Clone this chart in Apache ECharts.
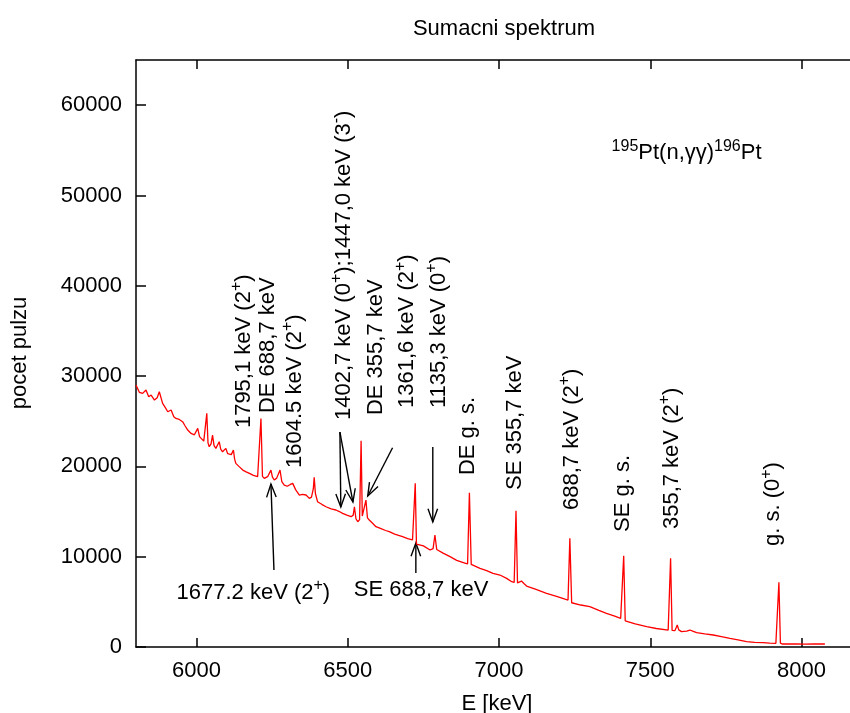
<!DOCTYPE html>
<html>
<head>
<meta charset="utf-8">
<script src="https://cdn.jsdelivr.net/npm/echarts@6/dist/echarts.min.js"></script>
<style>
  html, body { margin: 0; padding: 0; background: #fff; }
  #chart { width: 850px; height: 713px; }
</style>
</head>
<body>
<div id="chart"></div>
<script>
  // spektrum (E v keV, pocet pulzu)
  const energy = [
    5800, 5811, 5822, 5833, 5842, 5850, 5861, 5870, 5877, 5888, 5897, 5905, 5916, 5925, 5932, 5943,
    5954, 5962, 5971, 5982, 5993, 6004, 6010, 6015, 6024, 6030, 6034, 6038, 6042, 6048, 6053, 6058,
    6064, 6070, 6075, 6080, 6086, 6092, 6097, 6103, 6108, 6115, 6122, 6126, 6130, 6140, 6153, 6164,
    6175, 6188, 6202, 6208, 6213, 6218, 6224, 6235, 6241, 6246, 6251, 6257, 6265, 6270, 6276, 6282,
    6290, 6300, 6310, 6318, 6328, 6340, 6350, 6362, 6373, 6380, 6386, 6389, 6393, 6400, 6414, 6428,
    6445, 6461, 6472, 6483, 6497, 6511, 6518, 6522, 6527, 6533, 6539, 6544, 6548, 6554, 6560, 6565,
    6571, 6582, 6593, 6610, 6625, 6637, 6655, 6668, 6681, 6698, 6714, 6719, 6723, 6727, 6733, 6750,
    6772, 6782, 6788, 6794, 6799, 6815, 6838, 6860, 6887, 6896, 6902, 6908, 6913, 6937, 6959, 6980,
    7003, 7025, 7042, 7050, 7056, 7061, 7067, 7074, 7078, 7083, 7091, 7120, 7157, 7190, 7218, 7228,
    7234, 7240, 7245, 7270, 7300, 7330, 7355, 7380, 7402, 7407, 7412, 7417, 7422, 7450, 7488, 7520,
    7559, 7562, 7567, 7572, 7581, 7585, 7589, 7594, 7603, 7620, 7631, 7640, 7653, 7680, 7708, 7735,
    7763, 7790, 7818, 7845, 7873, 7895, 7915, 7920, 7925, 7930, 7937, 7960, 7983, 8010, 8040, 8077
  ];
  const counts = [
    29000, 28200, 28080, 28450, 27700, 27900, 27340, 27600, 28260, 26970, 26500, 26050, 26240, 25500, 25310, 25200,
    24950, 24500, 24020, 23650, 23500, 24210, 23300, 23100, 22800, 23000, 25870, 22600, 22180, 22500, 23470, 22300,
    21990, 22200, 22730, 21900, 21620, 21700, 21990, 21400, 21250, 21300, 21810, 20800, 20330, 20000, 19590, 19400,
    19220, 19000, 18860, 18900, 25310, 18900, 18670, 18860, 18700, 19590, 18800, 18490, 18700, 18600, 19590, 18300,
    17930, 17800, 18000, 18120, 17400, 16830, 16900, 16830, 16460, 16600, 17500, 18780, 17000, 16090, 15800, 15530,
    15300, 15170, 15000, 14800, 14600, 14430, 14600, 15530, 14200, 13870, 14100, 22840, 14500, 14600, 16270, 14300,
    14060, 13700, 13320, 13100, 12900, 12770, 12500, 12350, 12210, 12000, 11850, 11900, 18120, 11400, 11480, 11200,
    10740, 10900, 12400, 10800, 10650, 10400, 10000, 9600, 9300, 9200, 17080, 9150, 9080, 8710, 8450, 8150,
    7970, 7600, 7230, 7150, 15080, 7100, 7050, 7300, 7490, 7000, 6750, 6400, 5940, 5600, 5300, 5200,
    12030, 4900, 4830, 4650, 4460, 4050, 3730, 3450, 3170, 3100, 10110, 2900, 2800, 2550, 2250, 2050,
    1880, 1860, 9820, 1850, 1810, 2100, 2440, 1900, 1700, 1750, 1880, 1750, 1590, 1450, 1330, 1150,
    960, 780, 590, 520, 480, 440, 410, 420, 7160, 420, 330, 340, 330, 320, 330, 330
  ];

  const xTicks = [6000, 6500, 7000, 7500, 8000];
  const yTicks = [0, 10000, 20000, 30000, 40000, 50000, 60000];

  // popisky: text, poloha (E, pocet), otoceni
  const labels = [
    { t: '{n|1795,1 keV (2}{s|+}{n|)}', e: 6157, v: 24240, rot: true },
    { t: '{n|DE 688,7 keV}', e: 6236, v: 25900, rot: true },
    { t: '{n|1604.5 keV (2}{s|+}{n|)}', e: 6325, v: 19820, rot: true },
    { t: '{n|1402,7 keV (0}{s|+}{n|);1447,0 keV (3}{s|-}{n|)}', e: 6487, v: 25130, rot: true },
    { t: '{n|DE 355,7 keV}', e: 6593, v: 25680, rot: true },
    { t: '{n|1361,6 keV (2}{s|+}{n|)}', e: 6697, v: 26460, rot: true },
    { t: '{n|1135,3 keV (0}{s|+}{n|)}', e: 6801, v: 26460, rot: true },
    { t: '{n|DE g. s.}', e: 6896, v: 19040, rot: true },
    { t: '{n|SE 355,7 keV}', e: 7052, v: 17380, rot: true },
    { t: '{n|688,7 keV (2}{s|+}{n|)}', e: 7241, v: 15170, rot: true },
    { t: '{n|SE g. s.}', e: 7408, v: 12730, rot: true },
    { t: '{n|355,7 keV (2}{s|+}{n|)}', e: 7571, v: 13060, rot: true },
    { t: '{n|g. s. (0}{s|+}{n|)}', e: 7906, v: 11180, rot: true },
    { t: '{n|1677.2 keV (2}{s|+}{n|)}', e: 5934, v: 5200, rot: false },
    { t: '{n|SE 688,7 keV}', e: 6520, v: 5570, rot: false },
    { t: '{s|195}{n|Pt(n,γγ)}{s|196}{n|Pt}', e: 7372, v: 53910, rot: false }
  ];

  // sipky: [E konec, pocet konec, E hrot, pocet hrot]
  const arrows = [
    [6256, 8520, 6246, 18040],
    [6725, 8190, 6725, 11510],
    [6781, 22140, 6781, 13840],
    [6474, 23800, 6477, 15500],
    [6474, 23800, 6517, 16050],
    [6648, 22060, 6566, 16720]
  ];

  const font = 'Liberation Sans, Arial, sans-serif';
  const chart = echarts.init(document.getElementById('chart'));

  const axisX = (pos, showLabel) => ({
    type: 'value',
    position: pos,
    min: 5800,
    max: 8160,
    axisLine: { show: true, onZero: false, lineStyle: { color: '#000', width: 1.5 } },
    axisTick: { show: true, inside: true, length: 9, customValues: xTicks, lineStyle: { color: '#000', width: 1.5 } },
    axisLabel: {
      show: showLabel, customValues: xTicks, formatter: v => String(v),
      fontSize: 22, fontFamily: font, color: '#000', margin: 13
    },
    splitLine: { show: false }
  });

  chart.setOption({
    animation: false,
    title: {
      text: 'Sumacni spektrum',
      left: 499,
      top: 13,
      textAlign: 'center',
      textStyle: { fontSize: 22, fontWeight: 'normal', fontFamily: font, color: '#000' }
    },
    grid: { left: 136, right: 0, top: 60, bottom: 66 },
    xAxis: [axisX('bottom', true), axisX('top', false)],
    yAxis: {
      type: 'value',
      min: 0,
      max: 65000,
      axisLine: { show: true, onZero: false, lineStyle: { color: '#000', width: 1.5 } },
      axisTick: { show: true, inside: true, length: 10, customValues: yTicks, lineStyle: { color: '#000', width: 1.5 } },
      axisLabel: {
        customValues: yTicks, formatter: v => String(v),
        fontSize: 22, fontFamily: font, color: '#000', margin: 14
      },
      splitLine: { show: false }
    },
    series: [{
      type: 'line',
      data: energy.map((e, i) => [e, counts[i]]),
      showSymbol: false,
      symbol: 'none',
      lineStyle: { color: '#ff0000', width: 1.3 },
      clip: true
    }]
  });

  // popisky a sipky v pixelech z datovych souradnic
  const graphic = [];
  const rich = {
    n: { fontSize: 22, lineHeight: 26, verticalAlign: 'bottom', fontFamily: font, fill: '#000' },
    s: { fontSize: 16, lineHeight: 16, verticalAlign: 'top', fontFamily: font, fill: '#000' }
  };
  labels.forEach(l => {
    const p = chart.convertToPixel({ gridIndex: 0 }, [l.e, l.v]);
    graphic.push({
      type: 'text',
      x: l.rot ? p[0] - 2 : p[0],
      y: l.rot ? p[1] : p[1] - 9,
      rotation: l.rot ? Math.PI / 2 : 0,
      style: { text: l.t, rich: rich, align: 'left', verticalAlign: 'middle', fill: '#000' }
    });
  });
  arrows.forEach(a => {
    const p0 = chart.convertToPixel({ gridIndex: 0 }, [a[0], a[1]]);
    const p1 = chart.convertToPixel({ gridIndex: 0 }, [a[2], a[3]]);
    const ang = Math.atan2(p0[1] - p1[1], p0[0] - p1[0]);
    const hl = 14, ha = 0.35;
    graphic.push({
      type: 'line',
      shape: { x1: p0[0], y1: p0[1], x2: p1[0], y2: p1[1] },
      style: { stroke: '#000', lineWidth: 1.4 }
    });
    graphic.push({
      type: 'polyline',
      shape: { points: [
        [p1[0] + hl * Math.cos(ang + ha), p1[1] + hl * Math.sin(ang + ha)],
        [p1[0], p1[1]],
        [p1[0] + hl * Math.cos(ang - ha), p1[1] + hl * Math.sin(ang - ha)]
      ] },
      style: { stroke: '#000', lineWidth: 1.4, fill: null }
    });
  });
  // nazvy os
  graphic.push({
    type: 'text', x: 20, y: 353, rotation: Math.PI / 2,
    style: { text: 'pocet pulzu', fontSize: 22, fontFamily: font, fill: '#000', align: 'center', verticalAlign: 'middle' }
  });
  graphic.push({
    type: 'text', x: 497, y: 704,
    style: { text: 'E [keV]', fontSize: 22, fontFamily: font, fill: '#000', align: 'center', verticalAlign: 'middle' }
  });
  chart.setOption({ graphic: graphic });
</script>
</body>
</html>
